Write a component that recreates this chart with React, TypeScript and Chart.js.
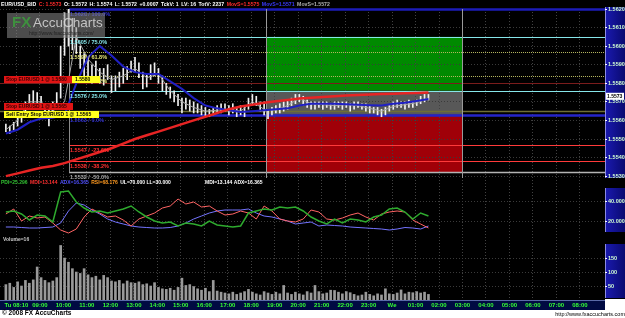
import React, { useEffect, useRef } from "react";
import { Chart, registerables } from "chart.js";

Chart.register(...registerables);

// ---------------- data ----------------
const timeLabels = [
  "Tu 08:10", "09:00", "10:00", "11:00", "12:00", "13:00", "14:00", "15:00", "16:00",
  "17:00", "18:00", "19:00", "20:00", "21:00", "22:00", "23:00", "We", "01:00",
  "02:00", "03:00", "04:00", "05:00", "06:00", "07:00", "08:00",
];
const tickHours = [8, 9, 10, 11, 12, 13, 14, 15, 16, 17, 18, 19, 20, 21, 22, 23, 24, 25, 26, 27, 28, 29, 30, 31, 32];
const priceTicks = [1.553, 1.554, 1.555, 1.556, 1.557, 1.558, 1.559, 1.56, 1.561, 1.562];
const indicatorTicks = [20, 40];
const volumeTicks = [50, 100, 150];

const xMinHour = 7.3;
const xMaxHour = 33.07;
const barStartHour = 7.55; // first 10-minute bar

const barLow = [
  1.5554, 1.5553, 1.5555, 1.5557, 1.5559, 1.5563, 1.5567, 1.5568, 1.5567, 1.5566,
  1.5562, 1.5557, 1.5562, 1.5566, 1.5572, 1.5595, 1.5600, 1.5598, 1.5596, 1.5588,
  1.5582, 1.5584, 1.5580, 1.5582, 1.5580, 1.5579, 1.5582, 1.5575, 1.5576, 1.5578,
  1.5580, 1.5582, 1.5586, 1.5586, 1.5583, 1.5577, 1.5578, 1.5582, 1.5584, 1.5580,
  1.5576, 1.5574, 1.5572, 1.5570, 1.5568, 1.5564, 1.5566, 1.5565, 1.5564, 1.5564,
  1.5563, 1.5562, 1.5562, 1.5563, 1.5564, 1.5564, 1.5565, 1.5563, 1.5564, 1.5562,
  1.5563, 1.5562, 1.5566, 1.5569, 1.5568, 1.5565, 1.5563, 1.5561, 1.5563, 1.5564,
  1.5564, 1.5565, 1.5566, 1.5568, 1.5569, 1.5570, 1.5568, 1.5567, 1.5566, 1.5566,
  1.5567, 1.5566, 1.5567, 1.5566, 1.5566, 1.5567, 1.5566, 1.5567, 1.5565, 1.5566,
  1.5567, 1.5566, 1.5565, 1.5564, 1.5564, 1.5563, 1.5562, 1.5563, 1.5565, 1.5566,
  1.5567, 1.5567, 1.5566, 1.5567, 1.5567, 1.5568, 1.5569, 1.5570, 1.5571,
];
const barHigh = [
  1.5558, 1.5557, 1.5559, 1.5562, 1.5564, 1.5570, 1.5574, 1.5576, 1.5575, 1.5573,
  1.5569, 1.5566, 1.5570, 1.5575, 1.5600, 1.5618, 1.5620, 1.5615, 1.5610, 1.5600,
  1.5596, 1.5594, 1.5590, 1.5592, 1.5588, 1.5588, 1.5590, 1.5584, 1.5584, 1.5586,
  1.5588, 1.5589, 1.5592, 1.5594, 1.5591, 1.5586, 1.5585, 1.5590, 1.5591, 1.5588,
  1.5584, 1.5580, 1.5578, 1.5576, 1.5574, 1.5572, 1.5572, 1.5571, 1.5570, 1.5569,
  1.5568, 1.5567, 1.5566, 1.5567, 1.5568, 1.5569, 1.5569, 1.5568, 1.5569, 1.5567,
  1.5568, 1.5568, 1.5572, 1.5574, 1.5573, 1.5570, 1.5570, 1.5566, 1.5567, 1.5568,
  1.5569, 1.5570, 1.5571, 1.5572, 1.5574, 1.5574, 1.5573, 1.5571, 1.5570, 1.5570,
  1.5570, 1.5570, 1.5570, 1.5569, 1.5570, 1.5570, 1.5570, 1.5570, 1.5569, 1.5570,
  1.5570, 1.5569, 1.5569, 1.5568, 1.5567, 1.5567, 1.5566, 1.5567, 1.5568, 1.5570,
  1.5571, 1.5570, 1.5570, 1.5571, 1.5570, 1.5571, 1.5573, 1.5574, 1.5574,
];
const volume = [
  55, 60, 45, 65, 50, 70, 60, 72, 118, 80,
  70, 62, 68, 80, 195, 150, 135, 112, 100, 95,
  112, 90, 80, 85, 72, 88, 80, 68, 65, 70,
  58, 68, 62, 60, 65, 55, 58, 50, 62, 45,
  40, 38, 42, 35, 45, 78, 52, 55, 48, 40,
  35, 42, 30, 70, 32, 28, 25, 22, 28, 20,
  25, 30, 38, 28, 22, 18, 30, 25, 20, 28,
  22, 52, 25, 20, 28, 22, 18, 30, 25, 52,
  30, 22, 25, 35, 34, 28, 22, 30, 26, 20,
  15, 18, 28, 20, 15, 22, 18, 40, 22, 20,
  25, 36, 22, 28, 26, 30, 25, 28, 20,
];
// moving averages, one value every 30 minutes
const maRed = [
  1.5530, 1.55315, 1.5533, 1.55345, 1.55355, 1.5537, 1.5539, 1.5541, 1.5543, 1.5545,
  1.55475, 1.5550, 1.5552, 1.5554, 1.5556, 1.5558, 1.5560, 1.5562, 1.5564, 1.5566,
  1.55675, 1.55685, 1.55695, 1.55703, 1.5571, 1.55718, 1.55722, 1.55726, 1.5573, 1.55734,
  1.55737, 1.5574, 1.55742, 1.55744, 1.55746, 1.55748, 1.5575,
];
const maBlue = [
  1.5553, 1.5555, 1.5559, 1.5561, 1.55615, 1.5563, 1.5580, 1.5594, 1.5600, 1.5595,
  1.5589, 1.5586, 1.5585, 1.5585, 1.5581, 1.5577, 1.5572, 1.5568, 1.55665, 1.55655,
  1.55645, 1.5565, 1.55655, 1.5566, 1.55665, 1.5568, 1.5569, 1.5569, 1.5569, 1.55687,
  1.55685, 1.55682, 1.5568, 1.5569, 1.55695, 1.55705, 1.55715,
];
const maGrey = [
  1.5555, 1.5560, 1.5570, 1.5570, 1.5565, 1.5570, 1.5605, 1.5593, 1.5586, 1.5582,
  1.5584, 1.5588, 1.5583, 1.5585, 1.5576, 1.5570, 1.5567, 1.5565, 1.55655, 1.5566,
  1.5565, 1.5570, 1.5566, 1.55655, 1.5568, 1.5572, 1.5569, 1.55685, 1.5568, 1.55685,
  1.5568, 1.55665, 1.5565, 1.55675, 1.55685, 1.55695, 1.5572,
];
// DMI indicators, one value every 20 minutes
const pdi = [
  29, 30, 27, 21, 26, 25, 19, 49, 50, 39,
  33, 29, 30, 28, 30, 32, 35, 29, 24, 20,
  18, 19, 15, 18, 17, 15, 20, 16, 15, 14,
  15, 28, 30, 32, 31, 34, 33, 34, 30, 24,
  20, 17, 22, 18, 22, 21, 19, 24, 26, 32,
  33, 29, 22, 28, 25,
];
const mdi = [
  27, 32, 20, 25, 23, 24, 18, 11, 8, 12,
  24, 32, 28, 24, 25, 21, 15, 22, 25, 28,
  33, 35, 42, 37, 39, 34, 35, 30, 26, 27,
  30, 28, 22, 35, 30, 22, 20, 19, 22, 31,
  29, 22, 21, 23, 26, 28, 24, 21, 27, 29,
  30, 29, 21, 17, 13,
];
const adx = [
  14, 14, 13.5, 13, 13, 13.5, 14, 18, 30, 38,
  36, 31, 27, 22, 19, 17, 15, 14, 13.5, 13,
  13, 13.5, 15, 18, 22, 25, 28, 30, 31, 31,
  31, 32, 28, 25, 24, 22, 20, 17, 18, 19,
  15, 16, 15.5, 15, 14, 13.5, 13, 12.5, 12, 11,
  12, 13.5, 13, 12, 15,
];

const fibStartHour = 10.24;
const fibLevels = [1.5620, 1.5605, 1.5597, 1.5584, 1.5576, 1.5563, 1.5547, 1.5538, 1.5532];
const fibLabels = [
  "1.5620 / 100.0%", "1.5605 / 75.0%", "1.5597 / 61.8%", "1.5584 / 38.2%", "1.5576 / 25.0%",
  "1.5563 / 0.0%", "1.5547 / -23.6%", "1.5538 / -38.2%", "1.5532 / -50.0%",
];
const zoneStartHour = 18.63;
const zoneEndHour = 27.0;
const zoneBounds = [1.5605, 1.5576, 1.5563, 1.5532]; // target / entry / stop zones
const stopLevel = 1.558;
const entryLevel = 1.5565;
const lastPrice = 1.5573;

const headerParts = [
  ["EUR/USD_BID", "#ffffff"], ["C: 1.5573", "#ff2a2a"], ["O: 1.5572", "#ffffff"],
  ["H: 1.5574", "#ffffff"], ["L: 1.5572", "#ffffff"], ["+0.0007", "#ffffff"],
  ["TckV: 1", "#ffffff"], ["LV: 16", "#ffffff"], ["TotV: 2237", "#ffffff"],
  ["MovS=1.5575", "#ff2a2a"], ["MovS=1.5571", "#3a3aff"], ["MovS=1.5572", "#b0b0b0"],
];
const indicatorParts = [
  ["PDI=25.296", "#30c030"], ["MDI=13.144", "#ff3030"], ["ADX=16.365", "#5050ff"],
  ["RSI=68.176", "#ff9a20"], ["UL=70.000 LL=30.000", "#ffffff"],
];
const indicatorRight = "MDI=13.144 ADX=16.365";
const volumeLabel = "Volume=16";

// ---------------- drawing helpers ----------------
const FAM = '"Liberation Sans", Arial, sans-serif';
const font = (size: number, bold = true) => `${bold ? "bold " : ""}${size}px ${FAM}`;

const fibStyles = [
  { c: "#1c1cb8", w: 2.5, d: [] as number[], t: "#3030d8" },
  { c: "#86e6ea", w: 1, d: [], t: "#86e6ea" },
  { c: "#b8b860", w: 1, d: [1, 1], t: "#e6e67a" },
  { c: "#b8b860", w: 1, d: [1, 1], t: "#e6e67a" },
  { c: "#86e6ea", w: 1, d: [], t: "#86e6ea" },
  { c: "#2424c8", w: 2.5, d: [], t: "#3030d8" },
  { c: "#ff3a3a", w: 1, d: [], t: "#ff3030" },
  { c: "#ff3a3a", w: 1, d: [], t: "#ff3030" },
  { c: "#b4b4b4", w: 1.5, d: [], t: "#a8a8a8" },
];

function txt(ctx: CanvasRenderingContext2D, s: string, x: number, y: number, color: string, f: string, align: CanvasTextAlign = "left") {
  ctx.font = f;
  ctx.fillStyle = color;
  ctx.textAlign = align;
  ctx.textBaseline = "middle";
  ctx.fillText(s, x, y);
  return ctx.measureText(s).width;
}

const decorPlugin = {
  id: "fxDecor",
  beforeDraw(chart: any) {
    const { ctx, chartArea: ca, scales } = chart;
    const W = chart.width;
    const H = chart.height;
    const xs = scales.x, ys = scales.y;
    ctx.save();
    ctx.fillStyle = "#000000";
    ctx.fillRect(0, 0, W, ca.bottom + 10);
    ctx.fillStyle = "#ffffff";
    ctx.fillRect(0, ca.bottom + 10, W, H - ca.bottom - 10);
    ctx.fillRect(ca.right, ca.bottom - 1, W - ca.right, 11);
    // time axis bar
    ctx.fillStyle = "#000a42";
    ctx.fillRect(ca.left, ca.bottom, ca.right - ca.left, 10);
    ctx.fillStyle = "#5a6aa8";
    ctx.fillRect(ca.left, ca.bottom, ca.right - ca.left, 1);
    // right axis columns
    const col = (top: number, bottom: number) => {
      const g = ctx.createLinearGradient(ca.right, 0, W, 0);
      g.addColorStop(0, "#1a1ab0");
      g.addColorStop(1, "#0a0a70");
      ctx.fillStyle = g;
      ctx.fillRect(ca.right, top, W - ca.right, bottom - top);
      ctx.fillStyle = "#8c8ce0";
      ctx.fillRect(ca.right, top, 1, bottom - top);
    };
    col(ys.top - 2, ys.bottom);
    col(scales.yInd.top + 10, scales.yInd.bottom - 2);
    col(scales.yVol.top + 10, scales.yVol.bottom - 2);
    // zones
    const zx0 = xs.getPixelForValue(zoneStartHour);
    const zx1 = xs.getPixelForValue(zoneEndHour);
    const zoneColors = ["#008a00", "#585858", "#a00008"];
    for (let i = 0; i < 3; i++) {
      const y0 = ys.getPixelForValue(zoneBounds[i]);
      const y1 = ys.getPixelForValue(zoneBounds[i + 1]);
      ctx.fillStyle = zoneColors[i];
      ctx.fillRect(zx0, y0, zx1 - zx0, y1 - y0);
    }
    ctx.restore();
  },
  beforeDatasetsDraw(chart: any) {
    const { ctx, chartArea: ca, scales } = chart;
    const xs = scales.x, ys = scales.y;
    ctx.save();
    const fx = xs.getPixelForValue(fibStartHour);
    const hline = (v: number, c: string, w: number, x0: number, d: number[] = []) => {
      const y = Math.round(ys.getPixelForValue(v)) + 0.5;
      ctx.strokeStyle = c;
      ctx.lineWidth = w;
      ctx.setLineDash(d);
      ctx.beginPath();
      ctx.moveTo(x0, y);
      ctx.lineTo(ca.right, y);
      ctx.stroke();
    };
    hline(stopLevel, "#7a1c1c", 1, ca.left);
    hline(entryLevel, "#6e6e36", 1.5, ca.left);
    fibLevels.forEach((v, i) => hline(v, fibStyles[i].c, fibStyles[i].w, fx, fibStyles[i].d));
    ctx.setLineDash([]);
    const vline = (xp: number, y0: number, y1: number, c: string) => {
      ctx.strokeStyle = c;
      ctx.lineWidth = 1;
      ctx.beginPath();
      ctx.moveTo(Math.round(xp) + 0.5, y0);
      ctx.lineTo(Math.round(xp) + 0.5, y1);
      ctx.stroke();
    };
    vline(fx, ys.getPixelForValue(fibLevels[0]), ys.getPixelForValue(fibLevels[8]), "#8a8a8a");
    vline(xs.getPixelForValue(zoneStartHour), ys.top, ys.bottom, "#9a9a9a");
    vline(xs.getPixelForValue(zoneEndHour), ys.top, ys.bottom, "#9a9a9a");
    ctx.restore();
  },
  beforeDatasetDraw(chart: any, args: any) {
    const { ctx, chartArea: ca } = chart;
    const sc = chart.scales[args.meta.yAxisID];
    ctx.save();
    ctx.beginPath();
    ctx.rect(ca.left, sc.top, ca.right - ca.left, sc.bottom - sc.top);
    ctx.clip();
  },
  afterDatasetDraw(chart: any) {
    chart.ctx.restore();
  },
  afterDatasetsDraw(chart: any) {
    const { ctx, chartArea: ca, scales } = chart;
    const xs = scales.x, ys = scales.y;
    const W = chart.width;
    ctx.save();
    const fx = xs.getPixelForValue(fibStartHour);
    fibLevels.forEach((v, i) => {
      txt(ctx, fibLabels[i], fx + 1, Math.round(ys.getPixelForValue(v)) + 5.5, fibStyles[i].t, font(5.5));
    });
    // order tags
    const yS = Math.round(ys.getPixelForValue(stopLevel));
    ctx.fillStyle = "#e01414";
    ctx.fillRect(4, yS - 7, 68, 7);
    txt(ctx, "Stop EURUSD 1 @ 1.5580", 6, yS - 3.3, "#3a0000", font(5));
    ctx.fillStyle = "#ffff1e";
    ctx.fillRect(72, yS - 7, 28, 7);
    txt(ctx, "1.5580", 75, yS - 3.3, "#000000", font(5));
    const yE = Math.round(ys.getPixelForValue(entryLevel));
    ctx.fillStyle = "#e01414";
    ctx.fillRect(4, yE - 8, 69, 7);
    txt(ctx, "Stop EURUSD 1 @ 1.5565", 6, yE - 4.3, "#3a0000", font(5));
    ctx.fillStyle = "#ffff1e";
    ctx.fillRect(4, yE, 95, 7);
    txt(ctx, "Sell Entry Stop EURUSD 1 @ 1.5565", 6, yE + 3.7, "#000000", font(5));
    // logo
    ctx.globalAlpha = 0.55;
    ctx.fillStyle = "#8a8a8a";
    ctx.fillRect(7, 13, 98, 25);
    ctx.globalAlpha = 0.85;
    txt(ctx, "FX", 12, 23, "#3c9c3c", font(15));
    txt(ctx, "AccuCharts", 33, 23, "#d8d8d8", font(13.5, false));
    txt(ctx, "http://www.fxaccucharts.com/", 29, 33.5, "#1a1a1a", font(5, false));
    ctx.globalAlpha = 1;
    // header
    let hx = 1;
    headerParts.forEach(([s, c]) => {
      hx += txt(ctx, s, hx, 4.5, c, font(5.2)) + 2.5;
    });
    // indicator and volume headers
    let ix = 1;
    const iy = scales.yInd.top + 5;
    indicatorParts.forEach(([s, c]) => {
      ix += txt(ctx, s, ix, iy, c, font(5)) + 2.5;
    });
    txt(ctx, indicatorRight, 205, iy, "#ffffff", font(5));
    txt(ctx, volumeLabel, 3, scales.yVol.top + 6, "#c8c8c8", font(5));
    // last price tag
    const yl = ys.getPixelForValue(lastPrice);
    ctx.fillStyle = "#ffffff";
    ctx.fillRect(ca.right + 1, yl - 3.5, 18, 7);
    txt(ctx, "1.5573", ca.right + 2, yl, "#000000", font(5));
    // footer
    txt(ctx, "\u00a9 2008 FX AccuCharts", 2, ca.bottom + 13.5, "#000000", font(6.5));
    txt(ctx, "http://www.fxaccucharts.com", W, ca.bottom + 14, "#000000", font(5.5, false), "right");
    ctx.restore();
  },
};

// ---------------- component ----------------
export default function App() {
  const ref = useRef<HTMLCanvasElement | null>(null);

  useEffect(() => {
    document.body.style.margin = "0";
    const canvas = ref.current;
    if (!canvas) return;

    const barHours = barLow.map((_, i) => barStartHour + i / 6);
    const maHours = maRed.map((_, i) => barStartHour + i / 2);
    const dmiHours = pdi.map((_, i) => barStartHour + i / 3);

    const lineDs = (label: string, hours: number[], vals: number[], color: string, width: number, axis: string, order: number) => ({
      type: "line" as const,
      label,
      data: hours.map((h, i) => ({ x: h, y: vals[i] })),
      yAxisID: axis,
      borderColor: color,
      borderWidth: width,
      pointRadius: 0,
      tension: 0,
      order,
    });

    const tickFont = { family: FAM, size: 5.5, weight: "bold" as const };
    const yCommon = (ticksArr: number[], fmt: (v: number) => string) => ({
      type: "linear" as const,
      position: "right" as const,
      stack: "panes",
      beginAtZero: false,
      grid: { color: "#3a3a3a", lineWidth: 1, drawTicks: true, tickLength: 2, tickColor: "#ffffff" },
      border: { display: false, dash: [1, 2] },
      afterBuildTicks: (s: any) => {
        s.ticks = ticksArr.map((v) => ({ value: v }));
      },
      afterFit: (s: any) => {
        s.width = 20;
      },
      ticks: {
        autoSkip: false,
        padding: 1,
        color: "#d2ffd2",
        font: tickFont,
        callback: (v: any) => fmt(Number(v)),
      },
    });

    const chart = new Chart(canvas, {
      type: "bar",
      data: {
        datasets: [
          lineDs("MovS 1.5575", maHours, maRed, "#e82424", 2.5, "y", 0),
          lineDs("MovS 1.5571", maHours, maBlue, "#2020c4", 2, "y", 1),
          lineDs("MovS 1.5572", maHours, maGrey, "#a8a8a8", 1, "y", 2),
          {
            type: "bar",
            label: "EUR/USD",
            data: barHours.map((h, i) => ({ x: h, y: [barLow[i], barHigh[i]] })),
            yAxisID: "y",
            backgroundColor: "#f0f0f0",
            barThickness: 1,
            grouped: false,
            order: 3,
          } as any,
          lineDs("PDI", dmiHours, pdi, "#2eaa2e", 1.5, "yInd", 0),
          lineDs("MDI", dmiHours, mdi, "#ff6464", 1, "yInd", 1),
          lineDs("ADX", dmiHours, adx, "#7474ff", 1, "yInd", 2),
          {
            type: "bar",
            label: "Volume",
            data: barHours.map((h, i) => ({ x: h, y: volume[i] })),
            yAxisID: "yVol",
            backgroundColor: "#9a9a9a",
            barThickness: 2,
            grouped: false,
            order: 4,
          } as any,
        ],
      },
      options: {
        animation: false,
        responsive: false,
        devicePixelRatio: 1,
        events: [],
        layout: { padding: { top: 9, bottom: 8, left: 0, right: 0 } },
        plugins: { legend: { display: false }, tooltip: { enabled: false } },
        scales: {
          x: {
            type: "linear",
            position: "bottom",
            min: xMinHour,
            max: xMaxHour,
            offset: false,
            grid: { offset: false, color: "#424242", lineWidth: 1, drawTicks: false },
            border: { display: false, dash: [1, 2] },
            afterBuildTicks: (s: any) => {
              s.ticks = tickHours.map((v) => ({ value: v }));
            },
            afterFit: (s: any) => {
              s.height = 10;
            },
            ticks: {
              autoSkip: false,
              maxRotation: 0,
              padding: 2,
              color: "#34ff34",
              font: { family: FAM, size: 6, weight: "bold" },
              callback: (_v: any, i: number) => timeLabels[i],
            },
          },
          y: { ...yCommon(priceTicks, (v) => v.toFixed(4)), min: 1.5529, max: 1.562, stackWeight: 169, weight: 1 },
          yInd: { ...yCommon(indicatorTicks, (v) => v.toFixed(3)), min: 7, max: 63, stackWeight: 56, weight: 2 },
          yVol: { ...yCommon(volumeTicks, (v) => String(v)), min: 0, max: 236, stackWeight: 66, weight: 3 },
        },
      } as any,
      plugins: [decorPlugin],
    });

    return () => chart.destroy();
  }, []);

  return (
    <div style={{ width: 625, height: 318 }}>
      <canvas ref={ref} width={625} height={318} style={{ display: "block" }} />
    </div>
  );
}
